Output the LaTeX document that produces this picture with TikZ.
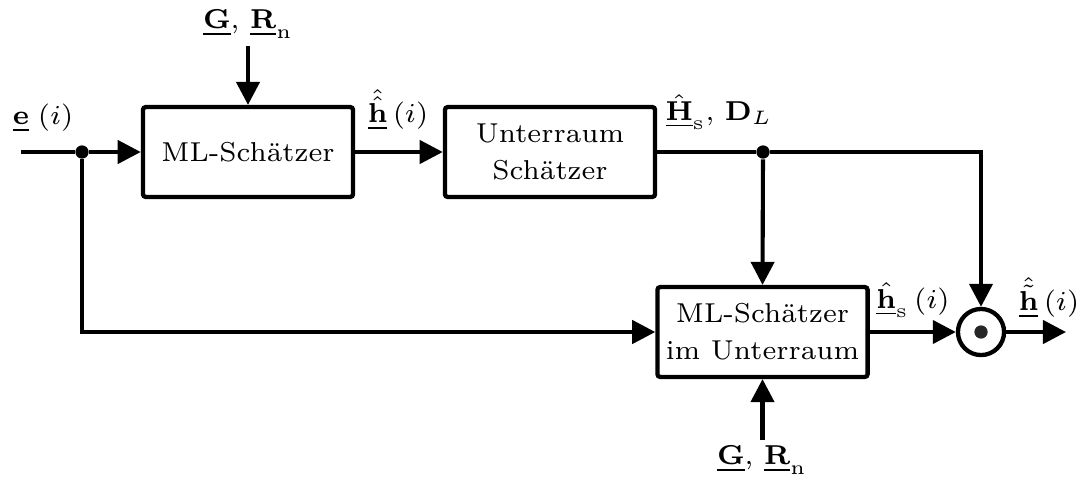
\documentclass[tikz,border=0pt]{standalone}
\usetikzlibrary{arrows.meta}
\tikzset{
  blk/.style={draw, line width=1.1pt, rounded corners=0.7pt, minimum width=53.8pt,
    minimum height=23pt, align=center, inner sep=0pt},
  sig/.style={line width=1.05pt, -{Triangle[length=5.9pt,width=5.9pt]}},
  wire/.style={line width=1.05pt},
  jdot/.style={circle, fill=black, minimum size=3.4pt, inner sep=0pt},
  lbl/.style={inner sep=0pt},
}
\begin{document}
\begin{tikzpicture}[x=0.256pt, y=-0.256pt, font=\fontsize{7}{9.5}\selectfont]
\useasboundingbox (0,0) rectangle (1082,482);

% blocks
\node[blk] (ml)  at (248,152) {ML-Schätzer};
\node[blk] (ur)  at (550,152) {Unterraum\\Schätzer};
\node[blk] (mlu) at (762.5,332) {ML-Schätzer\\im Unterraum};
\node[circle, draw, line width=1.1pt, minimum size=11.8pt, inner sep=0pt] (mul) at (981,332) {};
\node[circle, fill=black!85, minimum size=3.4pt, inner sep=0pt] (muldot) at (981,332) {};

% branch points and free ends
\coordinate (in)  at (21,152);
\node[jdot] (j1) at (82,152) {};
\node[jdot] (j2) at (763,152) {};
\coordinate (fb)  at (82,332);
\coordinate (cr)  at (981,152);
\coordinate (out) at (1066,332);
\coordinate (gtop) at (248,46);
\coordinate (gbot) at (762.5,440);

% connectors
\draw[wire] (in) -- (j1);
\draw[sig] (j1) -- (ml.west);
\draw[sig] (gtop) -- (ml.north);
\draw[sig] (ml.east) -- (ur.west);
\draw[wire] (ur.east) -- (j2);
\draw[sig] (j2) -- (mlu.north);
\draw[sig] (j2) -- (cr) -- (mul.north);
\draw[sig] (j1) -- (fb) -- (mlu.west);
\draw[sig] (gbot) -- (mlu.south);
\draw[sig] (mlu.east) -- (mul.west);
\draw[sig] (mul.east) -- (out);

% labels
\node[lbl] (lg1) at (248,24) {$\underline{\mathbf{G}}$, $\underline{\mathbf{R}}_{\mathrm{n}}$};
\node[lbl, anchor=west] (le) at (12,118) {$\underline{\mathbf{e}}\;(i)$};
\node[lbl] (lh1) at (398,110) {$\hat{\hat{\underline{\mathbf{h}}}}\,(i)$};
\node[lbl] (lhs) at (719,112) {$\hat{\underline{\mathbf{H}}}_{\mathrm{s}}$, $\mathbf{D}_L$};
\node[lbl] (lh2) at (913,300) {$\hat{\underline{\mathbf{h}}}_{\mathrm{s}}\,(i)$};
\node[lbl] (lh3) at (1049,298) {$\hat{\tilde{\underline{\mathbf{h}}}}\,(i)$};
\node[lbl] (lg2) at (762,460) {$\underline{\mathbf{G}}$, $\underline{\mathbf{R}}_{\mathrm{n}}$};
\end{tikzpicture}
\end{document}
